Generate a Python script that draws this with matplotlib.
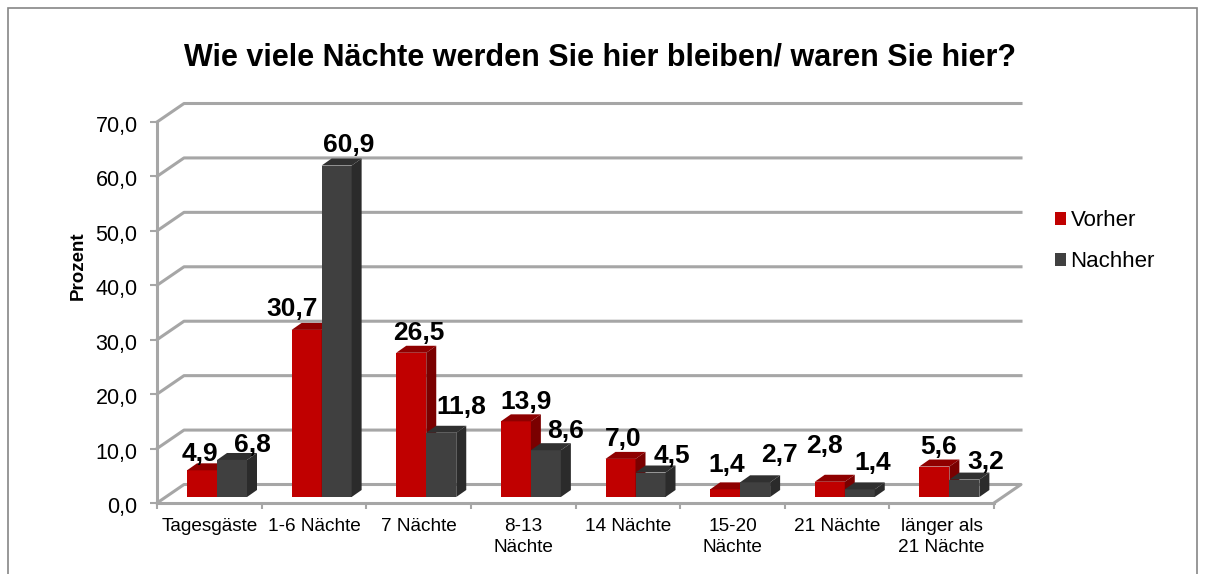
# -*- coding: utf-8 -*-
import numpy as np
import matplotlib
matplotlib.use("Agg")
import matplotlib.pyplot as plt
from matplotlib.patches import Patch, Polygon, Rectangle
from matplotlib.transforms import ScaledTranslation

categories = ["Tagesgäste", "1-6 Nächte", "7 Nächte", "8-13\nNächte", "14 Nächte",
              "15-20\nNächte", "21 Nächte", "länger als\n21 Nächte"]
vorher = [4.9, 30.7, 26.5, 13.9, 7.0, 1.4, 2.8, 5.6]
nachher = [6.8, 60.9, 11.8, 8.6, 4.5, 2.7, 1.4, 3.2]
yticks = [0, 10, 20, 30, 40, 50, 60, 70]

# label offsets from the bar top centre, in pixels (placed by hand in the original)
off_vorher = [(-2, 16), (-15, 21), (8, 20), (10, 19), (3, 20), (2, 24), (-5, 36), (4, 20)]
off_nachher = [(20, 15), (12, 21), (20, 26), (20, 19), (21, 17), (24, 27), (13, 26), (21, 18)]

W, H = 1208, 574
X0, X1, Y0, Y1 = 157, 994, 503, 122  # plot box in pixels
px_x = 8 / (X1 - X0)  # data units per pixel
px_y = 70 / (Y0 - Y1)

plt.rcParams["font.family"] = ["Liberation Sans", "DejaVu Sans"]
GRID = "#a6a6a6"

fig = plt.figure(figsize=(W / 100, H / 100), dpi=100, facecolor="white")
fig.add_artist(Rectangle((8 / W, -0.01), (1197 - 8) / W, 1.01 - 8 / H, transform=fig.transFigure,
                         fill=False, edgecolor="#868686", lw=1.2))
ax = fig.add_axes([X0 / W, 1 - Y0 / H, (X1 - X0) / W, (Y0 - Y1) / H])
ax.set_xlim(0, 8)
ax.set_ylim(0, 70)
ax.patch.set_visible(False)

# back wall lines with the slanted part running to the axis
wall_dx, wall_dy = 27 * px_x, 18.5 * px_y
for v in yticks:
    if v == 0:
        ax.plot([0, wall_dx, 8 + wall_dx, 8], [0, wall_dy, wall_dy, 0],
                color=GRID, lw=2.2, clip_on=False, zorder=1)
    else:
        ax.plot([0, wall_dx, 8 + wall_dx], [v, v + wall_dy, v + wall_dy],
                color=GRID, lw=2.2, clip_on=False, zorder=1)

# bars, front face + top + side for the 3d look
bar_w = 30 * px_x
bar_left = 30 * px_x
lift = 6 * px_y
dep_x, dep_y = 10 * px_x, 7 * px_y


def bar3d(x, v, front, top, side, z):
    ax.add_patch(Rectangle((x, lift), bar_w, v, fc=front, ec="none", zorder=z, clip_on=False))
    ax.add_patch(Polygon([(x, lift + v), (x + dep_x, lift + v + dep_y),
                          (x + bar_w + dep_x, lift + v + dep_y), (x + bar_w, lift + v)],
                         fc=top, ec="none", zorder=z, clip_on=False))
    ax.add_patch(Polygon([(x + bar_w, lift), (x + bar_w + dep_x, lift + dep_y),
                          (x + bar_w + dep_x, lift + v + dep_y), (x + bar_w, lift + v)],
                         fc=side, ec="none", zorder=z, clip_on=False))


def label(x, v, off):
    ax.annotate(f"{v:.1f}".replace(".", ","), (x + bar_w / 2, lift + v),
                xytext=(off[0] * 0.72, off[1] * 0.72), textcoords="offset points",
                ha="center", va="center", fontsize=19, fontweight="bold",
                color="black", zorder=10, annotation_clip=False)


for i in range(len(categories)):
    xv = i + bar_left
    xn = xv + bar_w
    bar3d(xv, vorher[i], "#c00000", "#8f0000", "#7a0000", 3)
    bar3d(xn, nachher[i], "#404040", "#303030", "#2b2b2b", 4)
    label(xv, vorher[i], off_vorher[i])
    label(xn, nachher[i], off_nachher[i])

for s in ["top", "right"]:
    ax.spines[s].set_visible(False)
for s in ["left", "bottom"]:
    ax.spines[s].set_color(GRID)
    ax.spines[s].set_linewidth(2.2)

ax.set_yticks(yticks)
ax.set_yticklabels([f"{v:.1f}".replace(".", ",") for v in yticks], fontsize=15.5)
ax.tick_params(axis="y", length=5, width=1.5, color=GRID, pad=9)
shift = ScaledTranslation(0, -2 / 100, fig.dpi_scale_trans)  # 2 px down
for t in ax.get_yticklabels():
    t.set_transform(t.get_transform() + shift)
ax.set_xticks(np.arange(9))
ax.set_xticklabels([])
ax.set_xticks(np.arange(8) + 0.5, labels=categories, minor=True)
ax.tick_params(axis="x", which="major", length=4, width=1.5, color=GRID)
ax.tick_params(axis="x", which="minor", length=0, pad=10.5, labelsize=13.7)
for t in ax.get_xticklabels(minor=True):
    t.set_linespacing(1.32)

fig.text(78 / W, 1 - 266 / H, "Prozent", rotation=90, ha="center", va="center",
         fontsize=13.5, fontweight="bold")
fig.text(600 / W, 1 - 58 / H, "Wie viele Nächte werden Sie hier bleiben/ waren Sie hier?",
         ha="center", va="center", fontsize=22, fontweight="bold")

handles = [Patch(fc="#c00000", label="Vorher"), Patch(fc="#404040", label="Nachher")]
fig.legend(handles=handles, loc="center left", bbox_to_anchor=(1055 / W, 1 - 241.5 / H),
           frameon=False, fontsize=16, handlelength=0.5, handleheight=0.5,
           handletextpad=0.2, labelspacing=0.9, borderpad=0, borderaxespad=0)

fig.savefig("out.png", dpi=100)
